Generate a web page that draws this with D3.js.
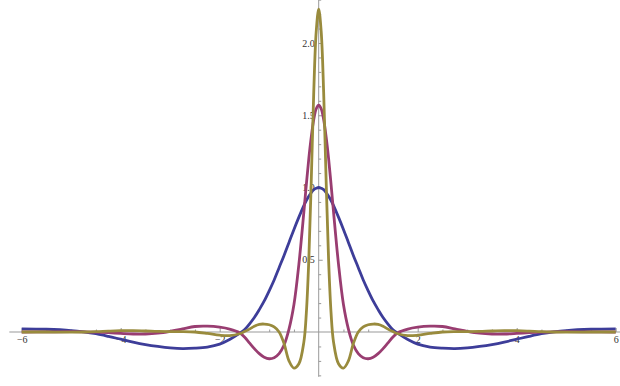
<!DOCTYPE html>
<html>
<head>
<meta charset="utf-8">
<script src="https://cdn.jsdelivr.net/npm/d3@7"></script>
<style>
  body { margin: 0; background: #fff; }
  svg { display: block; }
  .tick text { font-family: "Liberation Serif", "DejaVu Serif", serif; font-size: 10px; fill: #333; }
</style>
</head>
<body>
<svg id="chart" width="620" height="386"></svg>
<script>
var xs = [-6, -5.5, -5, -4.75, -4.5, -4.25, -4, -3.75, -3.5, -3.25, -3, -2.75, -2.5, -2.25, -2, -1.8, -1.6,
  -1.5, -1.4, -1.3, -1.2, -1.1, -1, -0.9, -0.8, -0.7, -0.6, -0.5, -0.4, -0.3, -0.25, -0.2, -0.15, -0.1, -0.05,
  0,
  0.05, 0.1, 0.15, 0.2, 0.25, 0.3, 0.4, 0.5, 0.6, 0.7, 0.8, 0.9, 1, 1.1, 1.2, 1.3, 1.4, 1.5,
  1.6, 1.8, 2, 2.25, 2.5, 2.75, 3, 3.25, 3.5, 3.75, 4, 4.25, 4.5, 4.75, 5, 5.5, 6];

var blue = [0.022, 0.019, 0.01, 0.001, -0.012, -0.03, -0.05, -0.07, -0.087, -0.1, -0.11, -0.115, -0.112, -0.104, -0.084, -0.052, -0.01,
  0.015, 0.055, 0.1, 0.155, 0.215, 0.285, 0.36, 0.445, 0.53, 0.62, 0.71, 0.795, 0.875, 0.91, 0.94, 0.965, 0.985, 0.995,
  1.0,
  0.995, 0.985, 0.965, 0.94, 0.91, 0.875, 0.795, 0.71, 0.62, 0.53, 0.445, 0.36, 0.285, 0.215, 0.155, 0.1, 0.055, 0.015,
  -0.01, -0.052, -0.084, -0.104, -0.112, -0.115, -0.11, -0.1, -0.087, -0.07, -0.05, -0.03, -0.012, 0.001, 0.01, 0.019, 0.022];

var magenta = [0, 0.001, 0.002, 0.001, -0.001, -0.005, -0.01, -0.014, -0.014, -0.008, 0.005, 0.022, 0.038, 0.04, 0.033, 0.02, -0.005,
  -0.035, -0.075, -0.115, -0.15, -0.175, -0.185, -0.178, -0.15, -0.09, 0.02, 0.19, 0.47, 0.83, 1.02, 1.2, 1.35, 1.47, 1.545,
  1.57,
  1.545, 1.47, 1.35, 1.2, 1.02, 0.83, 0.47, 0.19, 0.02, -0.09, -0.15, -0.178, -0.185, -0.175, -0.15, -0.115, -0.075, -0.035,
  -0.005, 0.02, 0.033, 0.04, 0.038, 0.022, 0.005, -0.008, -0.014, -0.014, -0.01, -0.005, -0.001, 0.001, 0.002, 0.001, 0];

var olive = [0, 0, -0.001, 0, 0.002, 0.006, 0.009, 0.009, 0.007, 0.004, 0.003, 0.003, 0, -0.01, -0.022, -0.025, -0.012,
  0.003, 0.02, 0.04, 0.053, 0.055, 0.05, 0.035, 0, -0.08, -0.2, -0.25, -0.22, -0.07, 0.13, 0.5, 1.05, 1.66, 2.08,
  2.235,
  2.08, 1.66, 1.05, 0.5, 0.13, -0.07, -0.22, -0.25, -0.2, -0.08, 0, 0.035, 0.05, 0.055, 0.053, 0.04, 0.02, 0.003,
  -0.012, -0.025, -0.022, -0.01, 0, 0.003, 0.003, 0.004, 0.007, 0.009, 0.009, 0.006, 0.002, 0, -0.001, 0, 0];

var xMajor = [-6, -4, -2, 2, 4, 6];
var yMajor = [0.5, 1.0, 1.5, 2.0];

var series = [
  {name: 'blue', values: blue, color: '#3d3d99'},
  {name: 'magenta', values: magenta, color: '#993d71'},
  {name: 'olive', values: olive, color: '#998b3d'}
];

var svg = d3.select('#chart');

var x = d3.scaleLinear().domain([-6, 6]).range([21.7, 615.7]);
var y = d3.scaleLinear().domain([0, 2]).range([332, 43]);

// axis lines (full plot range, a bit past the data)
svg.append('line')
  .attr('x1', x(-6.25)).attr('x2', 620)
  .attr('y1', y(0)).attr('y2', y(0))
  .attr('stroke', '#999').attr('stroke-width', 1);
svg.append('line')
  .attr('x1', x(0)).attr('x2', x(0))
  .attr('y1', 0).attr('y2', y(-0.31))
  .attr('stroke', '#999').attr('stroke-width', 1);

// minor ticks
var xMinor = d3.range(-6, 6.01, 0.5).filter(function(v) { return v !== 0 && xMajor.indexOf(v) === -1; });
var yMinor = d3.range(-0.3, 2.31, 0.1).map(function(v) { return +v.toFixed(1); })
  .filter(function(v) { return v !== 0 && yMajor.indexOf(v) === -1; });

svg.append('g')
  .attr('transform', 'translate(0,' + y(0) + ')')
  .call(d3.axisBottom(x).tickValues(xMinor).tickSize(-2.5).tickFormat(''))
  .call(function(g) { g.select('.domain').remove(); });

svg.append('g')
  .attr('transform', 'translate(' + x(0) + ',0)')
  .call(d3.axisLeft(y).tickValues(yMinor).tickSize(-2.5).tickFormat(''))
  .call(function(g) { g.select('.domain').remove(); });

// major ticks + labels
svg.append('g')
  .attr('transform', 'translate(0,' + y(0) + ')')
  .call(d3.axisBottom(x).tickValues(xMajor).tickSize(-4).tickPadding(4).tickFormat(d3.format('d')))
  .call(function(g) { g.select('.domain').remove(); });

svg.append('g')
  .attr('transform', 'translate(' + x(0) + ',0)')
  .call(d3.axisLeft(y).tickValues(yMajor).tickSize(-4).tickPadding(4).tickFormat(d3.format('.1f')))
  .call(function(g) { g.select('.domain').remove(); });

svg.selectAll('.tick line').attr('stroke', '#999');

var line = d3.line()
  .x(function(d) { return x(d[0]); })
  .y(function(d) { return y(d[1]); })
  .curve(d3.curveCatmullRom.alpha(0.5));

svg.selectAll('path.curve')
  .data(series)
  .enter().append('path')
  .attr('class', 'curve')
  .attr('fill', 'none')
  .attr('stroke', function(d) { return d.color; })
  .attr('stroke-width', 2.8)
  .attr('stroke-linejoin', 'round')
  .attr('d', function(d) {
    return line(xs.map(function(v, i) { return [v, d.values[i]]; }));
  });
</script>
</body>
</html>
